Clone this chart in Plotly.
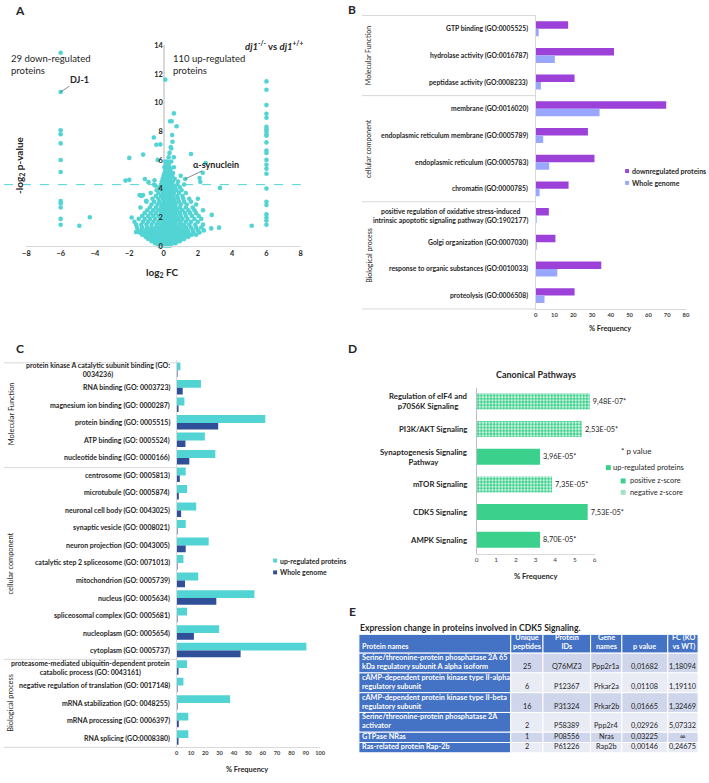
import plotly.graph_objects as go

W, H = 709, 783
FONT = "Lato"


def X(px):
    return px / W


def Y(py):
    return 1 - py / H


# ---------------- Panel A : volcano data ----------------
down_col_fc = -6
down_col_p = [13.48, 10.74, 8.08, 7.8, 7.16, 6.0, 5.17, 3.15, 2.98, 2.69, 1.9, 1.49]
up_col_fc = 6
up_col_p = [11.48, 10.9, 9.83, 9.23, 8.95, 8.31, 8.15, 7.99, 7.8, 7.69, 7.23, 6.66,
            6.49, 6.01, 5.67, 5.39, 5.05, 4.02, 3.1, 2.87, 2.22, 2.0, 1.79, 1.49]
outlier_fc = [-4.91, -4.3, 5.14, 0.1, 0.6, 0.38, 0.47, 0.76, 0.5, 0.52, 0.42, -0.57, -0.42,
              -0.19, -1.19, -2.0, -0.34, -2.22, -2.0, 1.6, 2.28, 2.45, 3.29, 2.81, 2.78, 3.24,
              -1.86, -1.61, -1.4, -1.2, -1.01, -0.88, -1.09, -0.53, -0.48, 2.1, 2.14, 1.26]
outlier_p = [1.42, 2.02, 1.42, 11.6, 9.25, 8.7, 8.7, 8.35, 7.75, 7.28, 6.9, 7.57, 7.07,
             7.09, 6.38, 6.15, 6.01, 4.57, 4.62, 6.42, 5.12, 5.79, 4.06, 2.18, 1.24, 1.29,
             2.0, 0.98, 3.56, 3.56, 3.17, 4.46, 4.68, 4.59, 4.22, 4.75, 4.48, 4.68]
# dense cloud, read row by row (p level, fold changes on that row)
cloud_rows = [
    (0.05, [-0.3, -0.15, 0, 0.1, 0.2, 0.3, 0.4]),
    (0.2, [-0.5, -0.35, -0.2, -0.05, 0.1, 0.25, 0.4, 0.55, 0.7]),
    (0.35, [-0.7, -0.55, -0.4, -0.25, -0.1, 0.05, 0.2, 0.35, 0.5, 0.65, 0.8, 0.95]),
    (0.5, [-0.9, -0.75, -0.6, -0.45, -0.3, -0.15, 0, 0.15, 0.3, 0.45, 0.6, 0.75, 0.9, 1.05, 1.2]),
    (0.65, [-1.05, -0.9, -0.75, -0.6, -0.45, -0.3, -0.15, 0.0, 0.15, 0.3, 0.45, 0.6, 0.75, 0.9, 1.05, 1.25, 1.45]),
    (0.8, [-1.25, -1.05, -0.85, -0.65, -0.5, -0.35, -0.2, -0.05, 0.1, 0.25, 0.4, 0.55, 0.7, 0.85, 1.0, 1.2, 1.4, 1.65, 1.9]),
    (0.95, [-1.4, -1.2, -0.95, -0.7, -0.5, -0.3, -0.1, 0.05, 0.2, 0.35, 0.5, 0.65, 0.8, 1.0, 1.2, 1.45, 1.75, 2.1]),
    (1.1, [-1.5, -1.3, -1.05, -0.8, -0.55, -0.3, -0.1, 0.05, 0.2, 0.35, 0.5, 0.7, 0.9, 1.15, 1.4, 1.7, 2.0, 2.35]),
    (1.3, [-1.55, -1.25, -0.95, -0.7, -0.45, -0.2, 0.0, 0.15, 0.3, 0.45, 0.6, 0.8, 1.05, 1.3, 1.6, 1.9, 2.2]),
    (1.5, [-1.6, -1.3, -1.0, -0.7, -0.4, -0.15, 0.05, 0.2, 0.35, 0.5, 0.7, 0.95, 1.2, 1.5, 1.85, 2.3]),
    (1.7, [-1.7, -1.2, -0.9, -0.6, -0.3, -0.05, 0.1, 0.25, 0.4, 0.55, 0.75, 1.0, 1.3, 1.6, 2.0]),
    (1.9, [-1.45, -1.1, -0.8, -0.5, -0.2, 0.0, 0.15, 0.3, 0.45, 0.6, 0.85, 1.1, 1.4, 1.8, 2.2]),
    (2.1, [-1.25, -0.9, -0.6, -0.3, -0.05, 0.1, 0.25, 0.4, 0.55, 0.75, 1.0, 1.3, 1.65, 2.05]),
    (2.3, [-1.1, -0.75, -0.45, -0.15, 0.05, 0.2, 0.35, 0.5, 0.7, 0.95, 1.25, 1.55, 1.9]),
    (2.5, [-0.95, -0.6, -0.3, -0.05, 0.1, 0.25, 0.4, 0.55, 0.8, 1.1, 1.45, 1.8, 2.3]),
    (2.7, [-1.35, -0.8, -0.45, -0.15, 0.05, 0.2, 0.35, 0.5, 0.7, 0.95, 1.3, 1.7]),
    (2.9, [-0.7, -0.35, -0.1, 0.05, 0.2, 0.35, 0.5, 0.7, 1.0, 1.35, 1.9]),
    (3.1, [-1.0, -0.55, -0.25, 0.0, 0.15, 0.3, 0.45, 0.65, 0.9, 1.2, 1.6]),
    (3.3, [-0.65, -0.3, -0.05, 0.1, 0.25, 0.4, 0.6, 0.85, 1.15, 1.5, 2.0]),
    (3.5, [-1.3, -0.45, -0.15, 0.05, 0.2, 0.35, 0.55, 0.8, 1.1]),
    (3.7, [-0.75, -0.3, -0.05, 0.1, 0.25, 0.4, 0.6, 0.9, 1.3]),
    (3.9, [-0.4, -0.1, 0.05, 0.2, 0.35, 0.5, 0.75, 1.05]),
    (4.1, [-0.25, 0.0, 0.15, 0.3, 0.45, 0.65, 0.95]),
    (4.3, [-0.55, -0.15, 0.05, 0.2, 0.35, 0.5, 0.8, 1.2]),
    (4.5, [-0.1, 0.05, 0.2, 0.35, 0.55, 0.85]),
    (4.7, [-0.05, 0.1, 0.25, 0.4, 0.65]),
    (4.9, [0.0, 0.15, 0.3, 0.5, 1.0]),
    (5.1, [0.05, 0.2, 0.35, 0.55]),
    (5.3, [0.1, 0.25, 0.4]),
    (5.5, [0.05, 0.2, 0.35, 0.6]),
    (5.7, [0.15, 0.3]),
    (5.9, [0.1, 0.25, 0.45]),
    (6.2, [0.3, 0.6]),
    (6.5, [0.35]),
    (6.8, [0.45]),
]

# ---------------- Panel B ----------------
b_cats = ["GTP binding (GO:0005525)", "hydrolase activity (GO:0016787)",
          "peptidase activity (GO:0008233)", "membrane (GO:0016020)",
          "endoplasmic reticulum membrane (GO:0005789)", "endoplasmic reticulum (GO:0005783)",
          "chromatin (GO:0000785)",
          "positive regulation of oxidative stress-induced<br>intrinsic apoptotic signaling pathway (GO:1902177)",
          "Golgi organization (GO:0007030)", "response to organic substances (GO:0010033)",
          "proteolysis (GO:0006508)"]
b_down = [17.3, 41.7, 20.7, 69.5, 27.8, 31.3, 17.5, 7.0, 10.5, 34.9, 20.7]
b_genome = [1.6, 10.2, 2.8, 34.0, 4.0, 7.2, 2.1, 0.3, 0.5, 11.5, 4.7]
b_ticks = [0, 10, 20, 30, 40, 50, 60, 70, 80]

# ---------------- Panel C ----------------
c_cats = ["protein kinase A catalytic subunit binding (GO:<br>0034236)",
          "RNA binding (GO: 0003723)", "magnesium ion binding (GO: 0000287)",
          "protein binding (GO: 0005515)", "ATP binding (GO: 0005524)",
          "nucleotide binding (GO: 0000166)", "centrosome (GO: 0005813)",
          "microtubule (GO: 0005874)", "neuronal cell body (GO: 0043025)",
          "synaptic vesicle (GO: 0008021)", "neuron projection (GO: 0043005)",
          "catalytic step 2 spliceosome (GO: 0071013)", "mitochondrion (GO: 0005739)",
          "nucleus (GO: 0005634)", "spliceosomal complex (GO: 0005681)",
          "nucleoplasm (GO: 0005654)", "cytoplasm (GO: 0005737)",
          "proteasome-mediated ubiquitin-dependent protein<br>catabolic process (GO: 0043161)",
          "negative regulation of translation (GO: 0017148)",
          "mRNA stabilization (GO: 0048255)", "mRNA processing (GO: 0006397)",
          "RNA splicing (GO:0008380)"]
c_up = [2.7, 17.0, 5.5, 61.8, 19.7, 27.0, 6.4, 7.3, 13.7, 6.4, 22.4, 4.8, 15.1, 54.2,
        7.3, 29.7, 90.4, 7.3, 4.8, 37.3, 8.2, 8.2]
c_genome = [0.5, 4.3, 1.1, 29.0, 6.2, 8.9, 2.3, 1.6, 3.2, 0.5, 6.4, 0.5, 5.9, 27.7,
            0.6, 12.1, 44.6, 1.0, 0.4, 0.4, 1.6, 1.3]
c_ticks = [0, 10, 20, 30, 40, 50, 60, 70, 80, 90, 100]

# ---------------- Panel D ----------------
d_cats = ["Regulation of eIF4 and<br>p70S6K Signaling", "PI3K/AKT Signaling",
          "Synaptogenesis Signaling<br>Pathway", "mTOR Signaling", "CDK5 Signaling",
          "AMPK Signaling"]
d_freq = [5.76, 5.36, 3.23, 3.84, 5.65, 3.23]
d_pval = ["9,48E-07*", "2,53E-05*", "3,96E-05*", "7,35E-05*", "7,53E-05*", "8,70E-05*"]
d_zscore = ["negative", "negative", "positive", "negative", "positive", "positive"]
d_ticks = [0, 1, 2, 3, 4, 5, 6]

# ---------------- Panel E ----------------
e_header = ["Protein names", "Unique<br>peptides", "Protein<br>IDs", "Gene<br>names",
            "p value", "FC (KO<br>vs WT)"]
e_names = ["Serine/threonine-protein phosphatase 2A 65<br>kDa regulatory subunit A alpha isoform",
           "cAMP-dependent protein kinase type II-alpha<br>regulatory subunit",
           "cAMP-dependent protein kinase type II-beta<br>regulatory subunit",
           "Serine/threonine-protein phosphatase 2A<br>activator",
           "GTPase NRas", "Ras-related protein Rap-2b"]
e_peptides = ["25", "6", "16", "2", "1", "2"]
e_ids = ["Q76MZ3", "P12367", "P31324", "P58389", "P08556", "P61226"]
e_genes = ["Ppp2r1a", "Prkar2a", "Prkar2b", "Ppp2r4", "Nras", "Rap2b"]
e_pvalue = ["0,01682", "0,01108", "0,01665", "0,02926", "0,03225", "0,00146"]
e_fc = ["1,18094", "1,19110", "1,32469", "5,07332", "∞", "0,24675"]
e_colwidths = [154, 32.7, 48.3, 31.7, 46.6, 30.7]

# colours
TEAL = "#52d4d4"
PURPLE = "#9c42d8"
LAVENDER = "#9aa7ff"
NAVY = "#2f4f98"
GREEN = "#3bd08c"
GRID = "#d9d9d9"
TXT = "#262626"
TBLUE = "#4472c4"

fig = go.Figure()

# ---------- A ----------
cloud_fc, cloud_p = [], []
for p, fcs in cloud_rows:
    for fc in fcs:
        cloud_fc.append(fc)
        cloud_p.append(p)
all_fc = [down_col_fc] * len(down_col_p) + [up_col_fc] * len(up_col_p) + outlier_fc + cloud_fc
all_p = down_col_p + up_col_p + outlier_p + cloud_p
fig.add_trace(go.Scatter(x=all_fc, y=all_p, mode="markers", xaxis="x", yaxis="y",
                         marker=dict(color=TEAL, size=4.6, line=dict(width=0)),
                         cliponaxis=False, showlegend=False, hoverinfo="skip"))

# ---------- B ----------
fig.add_trace(go.Bar(y=b_cats, x=b_down, orientation="h", xaxis="x2", yaxis="y2",
                     width=0.28, offset=-0.28,
                     marker=dict(color=PURPLE, line=dict(width=0)), showlegend=False))
fig.add_trace(go.Bar(y=b_cats, x=b_genome, orientation="h", xaxis="x2", yaxis="y2",
                     width=0.28, offset=0.0,
                     marker=dict(color=LAVENDER, line=dict(width=0)), showlegend=False))

# ---------- C ----------
fig.add_trace(go.Bar(y=c_cats, x=c_up, orientation="h", xaxis="x3", yaxis="y3",
                     width=0.45, offset=-0.45,
                     marker=dict(color=TEAL, line=dict(width=0)), showlegend=False))
fig.add_trace(go.Bar(y=c_cats, x=c_genome, orientation="h", xaxis="x3", yaxis="y3",
                     width=0.38, offset=0.0,
                     marker=dict(color=NAVY, line=dict(width=0)), showlegend=False))

# ---------- D ----------
d_shapes = ["." if z == "negative" else "" for z in d_zscore]
d_bg = ["#d4f4e5" if z == "negative" else GREEN for z in d_zscore]
fig.add_trace(go.Bar(y=d_cats, x=d_freq, orientation="h", xaxis="x4", yaxis="y4",
                     marker=dict(color=GREEN, line=dict(width=0),
                                 pattern=dict(shape=d_shapes, fgcolor=GREEN, bgcolor=d_bg,
                                              size=3.2, solidity=0.55, fillmode="replace")),
                     text=d_pval, textposition="outside", cliponaxis=False,
                     textfont=dict(size=7.4, color=TXT, family=FONT),
                     showlegend=False, width=0.58))

fig.update_layout(
    width=W, height=H, margin=dict(l=0, r=0, t=0, b=0),
    paper_bgcolor="white", plot_bgcolor="rgba(0,0,0,0)",
    font=dict(family=FONT, color=TXT),
    barmode="group",
    # A
    xaxis=dict(domain=[X(22.7), X(301)], range=[-8, 8], tickvals=[-8, -6, -4, -2, 0, 2, 4, 6, 8],
               showgrid=False, zeroline=True, zerolinecolor=GRID, zerolinewidth=1.5,
               showline=True, linecolor=GRID, linewidth=1, ticks="", anchor="y",
               tickfont=dict(size=7.4, color=TXT, family=FONT, weight="bold")),
    yaxis=dict(domain=[Y(245), Y(41.7)], range=[0, 14], tickvals=[0, 2, 4, 6, 8, 10, 12, 14],
               showgrid=False, zeroline=False, showline=False, ticks="",
               anchor="free", position=X(161),
               tickfont=dict(size=7.4, color=TXT, family=FONT, weight="bold")),
    # B
    xaxis2=dict(domain=[X(539.3), X(691.7)], range=[0, 80], tickvals=b_ticks, anchor="y2",
                showgrid=False, zeroline=False, showline=True, linecolor=GRID, ticks="",
                tickfont=dict(size=5.8, color="#404040", family=FONT, weight="bold")),
    yaxis2=dict(domain=[Y(308.5), Y(11.5)], anchor="x2", autorange="reversed",
                categoryorder="array", categoryarray=b_cats, showticklabels=False,
                showline=True, linecolor=GRID, showgrid=False, ticks=""),
    # C
    xaxis3=dict(domain=[X(175), X(320.7)], range=[0, 100], tickvals=c_ticks, anchor="y3",
                showgrid=False, zeroline=False, showline=True, linecolor=GRID, ticks="",
                tickfont=dict(size=5.6, color="#404040", family=FONT, weight="bold")),
    yaxis3=dict(domain=[Y(751.5), Y(360.5)], anchor="x3", autorange="reversed",
                categoryorder="array", categoryarray=c_cats, showticklabels=False,
                showline=True, linecolor=GRID, showgrid=False, ticks=""),
    # D
    xaxis4=dict(domain=[X(479.3), X(599)], range=[0, 6], tickvals=d_ticks, anchor="y4",
                showgrid=False, zeroline=False, showline=True, linecolor=GRID, ticks="",
                tickfont=dict(size=6.4, color="#404040", family=FONT)),
    yaxis4=dict(domain=[Y(556), Y(388)], anchor="x4", autorange="reversed",
                categoryorder="array", categoryarray=d_cats, showticklabels=False,
                showline=True, linecolor="#bfbfbf", showgrid=False, ticks=""),
)

ann = []
shapes = []


def text(x, y, t, size, bold=False, xanchor="center", yanchor="middle", angle=0,
         align="center", color=TXT):
    ann.append(dict(x=X(x), y=Y(y), xref="paper", yref="paper", text=t, showarrow=False,
                    xanchor=xanchor, yanchor=yanchor, textangle=angle, align=align,
                    borderpad=0,
                    font=dict(size=size, color=color, family=FONT,
                              weight="bold" if bold else "normal")))


def hline(x0, x1, y, color=GRID, width=1):
    shapes.append(dict(type="line", xref="paper", yref="paper", x0=X(x0), x1=X(x1),
                       y0=Y(y), y1=Y(y), line=dict(color=color, width=width)))


def rect(x0, y0, x1, y1, color, line_color=None, lw=0):
    shapes.append(dict(type="rect", xref="paper", yref="paper", x0=X(x0), x1=X(x1),
                       y0=Y(y1), y1=Y(y0), fillcolor=color,
                       line=dict(width=lw, color=line_color or color)))


def square(x, y, s, color):
    rect(x - s / 2, y - s / 2, x + s / 2, y + s / 2, color)


# panel letters
text(16, 7, "A", 12, bold=True)
text(353, 6, "B", 12, bold=True)
text(16, 348, "C", 12, bold=True)
text(353, 348, "D", 12, bold=True)
text(353, 615, "E", 12, bold=True)

# ---- A annotations
shapes.append(dict(type="line", xref="paper", yref="y", x0=0, x1=X(301), y0=4.29, y1=4.29,
                   line=dict(color=TEAL, width=1, dash="dash")))
text(6, 61, "29 down-regulated<br>proteins", 9.5, xanchor="left", align="left")
text(170, 61, "110 up-regulated<br>proteins", 9.5, xanchor="left", align="left")
text(274, 42, "<i>dj1</i><sup>-/-</sup> vs <i>dj1</i><sup>+/+</sup>", 9.5, bold=True)
text(161, 272, "log<sub>2</sub> FC", 10, bold=True)
text(15, 163, "-log<sub>2</sub> p-value", 10, bold=True, angle=-90)
ann.append(dict(x=-6, y=10.74, xref="x", yref="y", text="<b>DJ-1</b>", showarrow=True,
                arrowhead=0, arrowwidth=0.6, arrowcolor="#404040", ax=19, ay=-13,
                font=dict(size=9, color=TXT, family=FONT)))
ann.append(dict(x=1.26, y=4.68, xref="x", yref="y", text="<b>α-synuclein</b>", showarrow=True,
                arrowhead=0, arrowwidth=0.6, arrowcolor="#404040", ax=31, ay=-15,
                font=dict(size=9, color=TXT, family=FONT)))

# ---- B annotations
for i, c in enumerate(b_cats):
    ann.append(dict(x=X(533), y=i, xref="paper", yref="y2", text="<b>" + c + "</b>",
                    showarrow=False, xanchor="right", align="center", borderpad=0,
                    font=dict(size=6.8, color=TXT, family=FONT)))
for yy in [11.7, 92.7, 200, 308.5]:
    hline(363, 539.3, yy)
text(370, 52, "Molecular Function", 7, angle=-90)
text(370, 146, "cellular component", 7, angle=-90)
text(370, 254, "Biological process", 7, angle=-90)
text(615, 328, "% Frequency", 7.4, bold=True)
square(632, 169, 4, PURPLE)
square(632, 181, 4, LAVENDER)
text(636, 169, "downregulated proteins", 7, bold=True, xanchor="left")
text(636, 181, "Whole genome", 7, bold=True, xanchor="left")

# ---- C annotations
for i, c in enumerate(c_cats):
    ann.append(dict(x=X(169), y=i, xref="paper", yref="y3", text="<b>" + c + "</b>",
                    showarrow=False, xanchor="right", align="center", borderpad=0,
                    font=dict(size=7.0, color=TXT, family=FONT)))
for yy in [363, 469, 663, 752]:
    hline(0, 175, yy)
text(7, 414, "Molecular Function", 7.4, angle=-90)
text(7, 566, "cellular component", 7.4, angle=-90)
text(7, 707, "Biological process", 7.4, angle=-90)
text(246, 774, "% Frequency", 7.4, bold=True)
square(275, 563, 4, TEAL)
square(275, 575, 4, NAVY)
text(279, 563, "up-regulated proteins", 6.9, bold=True, xanchor="left")
text(279, 575, "Whole genome", 6.9, bold=True, xanchor="left")

# ---- D annotations
for i, c in enumerate(d_cats):
    ann.append(dict(x=X(471), y=i, xref="paper", yref="y4", text="<b>" + c + "</b>",
                    showarrow=False, xanchor="right", align="center", borderpad=0,
                    font=dict(size=7.8, color=TXT, family=FONT)))
text(540, 375, "Canonical Pathways", 9, bold=True)
text(539, 579, "% Frequency", 7.6, bold=True)
text(625, 452, "* p value", 8, xanchor="left")
square(613, 469, 5, GREEN)
text(617, 469, "up-regulated proteins", 7.5, xanchor="left")
square(628, 482.5, 5, GREEN)
text(634, 482.5, "positive z-score", 7.4, xanchor="left")
square(628, 494, 5, "#9fe3c3")
text(634, 494, "negative z-score", 7.4, xanchor="left")

# ---- E table (drawn as cells)
text(360, 631, "Expression change in proteins involved in CDK5 Signaling.", 8.6, bold=True,
     xanchor="left")
col_edges = [360.0]
for wdt in e_colwidths:
    col_edges.append(col_edges[-1] + wdt)
LINE_H, PAD = 9.6, 0.8
FS = 7.3
top = 637.7
hdr_h = 19.0
for j, h in enumerate(e_header):
    x0, x1 = col_edges[j], col_edges[j + 1]
    rect(x0, top, x1, top + hdr_h, TBLUE, "white", 1)
    if j == 0:
        text(x0 + 2, top + hdr_h - 1, "<b>" + h + "</b>", FS, xanchor="left",
             yanchor="bottom", align="left", color="white")
    elif j == len(e_header) - 1:
        text(x1 - 2, top + hdr_h - 1, "<b>" + h + "</b>", FS, xanchor="right",
             yanchor="bottom", align="right", color="white")
    else:
        text((x0 + x1) / 2, top + hdr_h - 1, "<b>" + h + "</b>", FS, yanchor="bottom",
             color="white")
y_cur = top + hdr_h
columns = [e_names, e_peptides, e_ids, e_genes, e_pvalue, e_fc]
for i in range(len(e_names)):
    n_lines = e_names[i].count("<br>") + 1
    rh = n_lines * LINE_H + PAD
    fill = "#cfd5ea" if i % 2 == 0 else "#e9ebf5"
    for j, col in enumerate(columns):
        x0, x1 = col_edges[j], col_edges[j + 1]
        rect(x0, y_cur, x1, y_cur + rh, TBLUE if j == 0 else fill, "white", 1)
        if j == 0:
            text(x0 + 2, y_cur + rh - 0.8, "<b>" + col[i] + "</b>", FS, xanchor="left",
                 yanchor="bottom", align="left", color="white")
        else:
            text((x0 + x1) / 2, y_cur + rh - 0.8, col[i], FS, yanchor="bottom",
                 color=TXT)
    y_cur += rh

fig.update_layout(annotations=ann, shapes=shapes)
fig.write_html("out.html", config={"displayModeBar": False},
               post_script="document.body.style.margin='0';")
